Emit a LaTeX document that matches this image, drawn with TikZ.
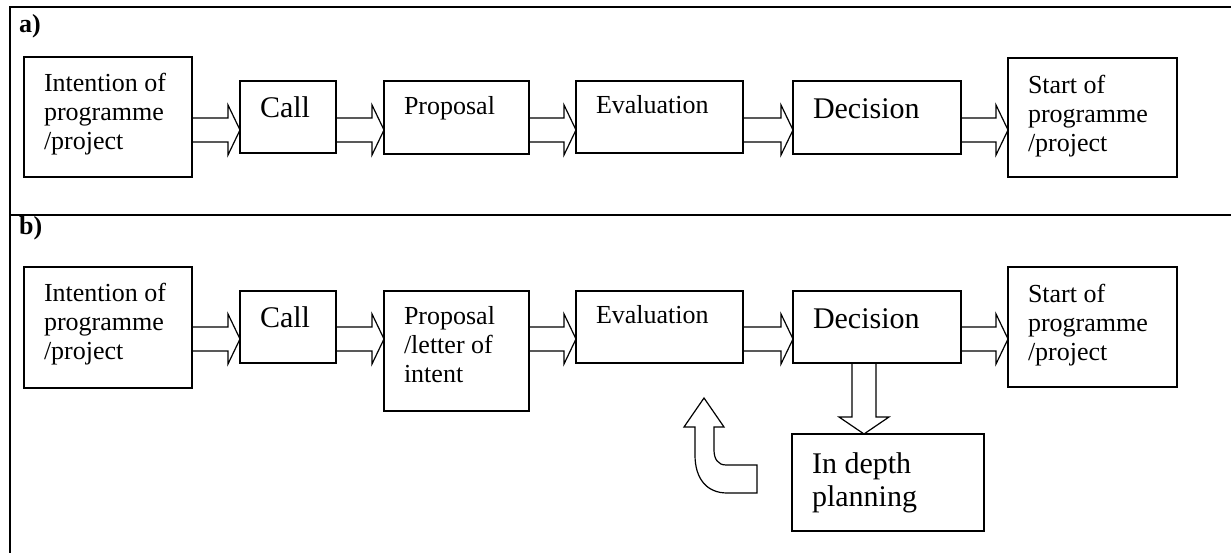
\documentclass[tikz,border=0pt]{standalone}
\usepackage{fontspec}
\setmainfont{Liberation Serif}
\usetikzlibrary{calc}

\newcommand{\stagefont}{\fontsize{26}{29}\selectfont}
\newcommand{\bigstagefont}{\fontsize{30}{33}\selectfont}
% box contents: width, height, gap above text, text
\newcommand{\stagetext}[4]{\parbox[c][#2][t]{\dimexpr#1-40pt\relax}{\vspace*{#3}\raggedright#4}}
% open block arrow from node #1 to node #2, axis at height #3
\newcommand{\flowarrow}[3]{%
\draw[arrowline] let \p1=(#1.east), \p2=(#2.west) in
  (\x1,{#3pt+12pt}) -- ({\x2-12pt},{#3pt+12pt}) -- ({\x2-12pt},{#3pt+25pt}) -- (\x2,{#3pt})
  -- ({\x2-12pt},{#3pt-25pt}) -- ({\x2-12pt},{#3pt-12pt}) -- (\x1,{#3pt-12pt});}

\tikzset{
  stage/.style={draw, line width=1.2pt, inner xsep=20pt, inner ysep=0pt, outer sep=0pt},
  arrowline/.style={line width=1.2pt, line join=miter},
  frameline/.style={line width=2pt},
  partlabel/.style={anchor=base west, inner sep=0pt, font=\bfseries\stagefont}
}

\begin{document}
\begin{tikzpicture}[x=1pt,y=1pt]
\path[use as bounding box] (0,0) rectangle (1231,553);

% frame
\draw[frameline] (1231,546) -- (10,546) -- (10,0);
\draw[frameline] (10,338) -- (1231,338);

\node[partlabel] (labA) at (19,520) {a)};
\node[partlabel] (labB) at (19,318) {b)};

% a) direct procedure
\node[stage] (intA) at (108,436) {\stagetext{168pt}{120pt}{16pt}{\stagefont Intention of\\programme\\/project}};
\node[stage] (callA) at (288,436) {\stagetext{96pt}{72pt}{16pt}{\bigstagefont Call}};
\node[stage] (propA) at (456.5,435.5) {\stagetext{145pt}{73pt}{15pt}{\stagefont Proposal}};
\node[stage] (evalA) at (659.5,436) {\stagetext{167pt}{72pt}{14pt}{\stagefont Evaluation}};
\node[stage] (decA) at (877,435.5) {\stagetext{168pt}{73pt}{18pt}{\bigstagefont Decision}};
\node[stage] (startA) at (1092.5,435.5) {\stagetext{169pt}{119pt}{17pt}{\stagefont Start of\\programme\\/project}};

\flowarrow{intA}{callA}{423}
\flowarrow{callA}{propA}{423}
\flowarrow{propA}{evalA}{423}
\flowarrow{evalA}{decA}{423}
\flowarrow{decA}{startA}{423}

% b) two-step procedure
\node[stage] (intB) at (108,225.5) {\stagetext{168pt}{121pt}{16pt}{\stagefont Intention of\\programme\\/project}};
\node[stage] (callB) at (288,226) {\stagetext{96pt}{72pt}{16pt}{\bigstagefont Call}};
\node[stage] (propB) at (456.5,202) {\stagetext{145pt}{120pt}{15pt}{\stagefont Proposal\\/letter of\\intent}};
\node[stage] (evalB) at (659.5,226) {\stagetext{167pt}{72pt}{14pt}{\stagefont Evaluation}};
\node[stage] (decB) at (877,226) {\stagetext{168pt}{72pt}{18pt}{\bigstagefont Decision}};
\node[stage] (startB) at (1092.5,226) {\stagetext{169pt}{120pt}{17pt}{\stagefont Start of\\programme\\/project}};
\node[stage] (planB) at (888,70.5) {\stagetext{192pt}{97pt}{19pt}{\bigstagefont In depth\\planning}};

\flowarrow{intB}{callB}{214}
\flowarrow{callB}{propB}{214}
\flowarrow{propB}{evalB}{214}
\flowarrow{evalB}{decB}{214}
\flowarrow{decB}{startB}{214}

% down to planning
\draw[arrowline] let \p1=(decB.south), \p2=(planB.north) in
  (852,\y1) -- (852,{\y2+17pt}) -- (839,{\y2+17pt}) -- (864,\y2)
  -- (889,{\y2+17pt}) -- (876,{\y2+17pt}) -- (876,\y1);

% back to evaluation
\draw[arrowline] (695,126) -- (695,98) .. controls (695,74) and (707,60) .. (727,60)
  -- (757,60) -- (757,88) -- (726,88) .. controls (718,88) and (714,94) .. (714,103)
  -- (714,126) -- (724,126) -- (704,155) -- (684,126) -- cycle;
\end{tikzpicture}
\end{document}
